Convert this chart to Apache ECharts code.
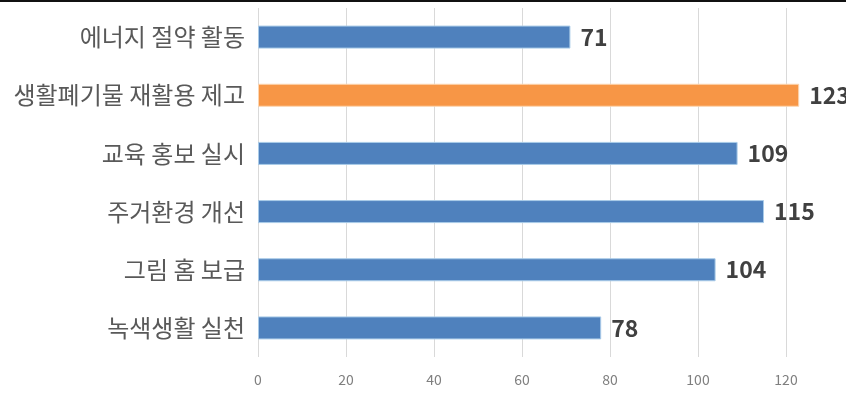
<!DOCTYPE html>
<html><head><meta charset="utf-8">
<script src="https://cdn.jsdelivr.net/npm/echarts@6/dist/echarts.min.js"></script>
<style>html,body{margin:0;padding:0;background:#fff}#c{width:846px;height:401px}</style>
</head><body><div id="c"></div>
<script>
const categories = ['에너지 절약 활동','생활폐기물 재활용 제고','교육 홍보 실시','주거환경 개선','그림 홈 보급','녹색생활 실천'];
const values = [71,123,109,115,104,78];
const highlight = ['생활폐기물 재활용 제고'];
const xTicks = [0,20,40,60,80,100,120];

const chart = echarts.init(document.getElementById('c'));
chart.setOption({
  animation:false,
  backgroundColor:'#fff',
  graphic:[{type:'rect',shape:{x:0,y:0,width:846,height:2},style:{fill:'#111'}}],
  grid:{left:258,width:616,top:8,bottom:44,outerBoundsMode:'none',containLabel:false},
  xAxis:{type:'value',min:0,max:140,interval:20,
    axisLine:{show:false},axisTick:{show:false},
    splitLine:{lineStyle:{color:'#d9d9d9',width:1}},
    axisLabel:{color:'#7f7f7f',fontSize:14,margin:16,fontFamily:'Noto Sans CJK KR',
      formatter:v=>xTicks.includes(v)?String(v):''}},
  yAxis:{type:'category',data:categories,inverse:true,
    axisLine:{show:false},axisTick:{show:false},
    axisLabel:{color:'#595959',fontSize:24,margin:13,fontFamily:'Noto Sans CJK KR'}},
  series:[{type:'bar',barWidth:23,
    data:values.map((v,i)=>({value:v,itemStyle:{color:highlight.includes(categories[i])?'#F79646':'#4F81BD',
      borderColor:highlight.includes(categories[i])?'#fcd5b0':'#a9cbe8',borderWidth:1}})),
    label:{show:true,position:'right',distance:10,color:'#404040',fontSize:23,fontWeight:'bold',fontFamily:'Noto Sans CJK KR'}}]
});
</script></body></html>
